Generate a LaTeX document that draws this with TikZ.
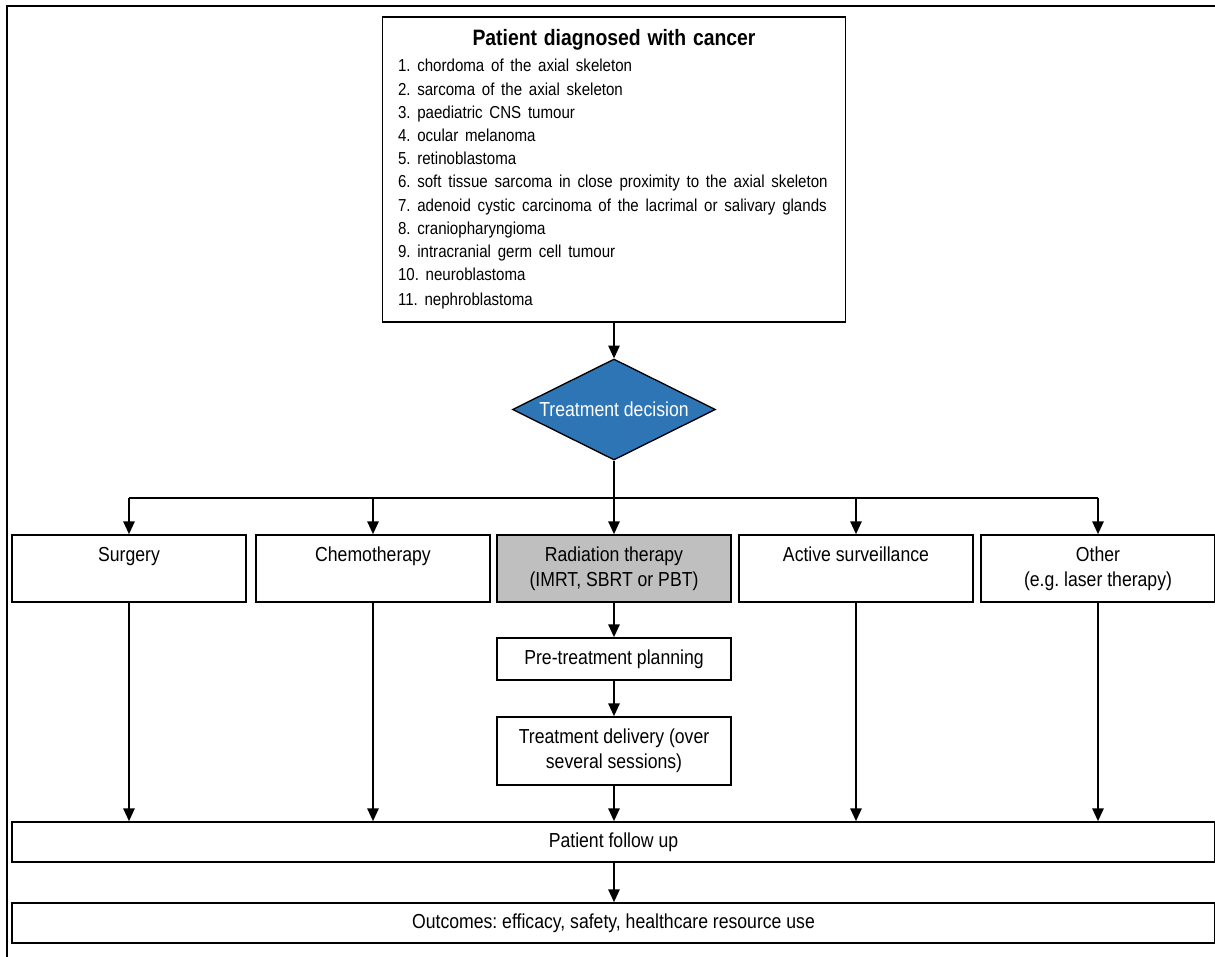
\documentclass[tikz,border=0pt]{standalone}
\usepackage{fontspec}
\setmainfont{Liberation Sans}[FakeStretch=0.87]
\usetikzlibrary{arrows.meta}
\usetikzlibrary{positioning}
\usetikzlibrary{shapes.geometric}
\definecolor{decblue}{HTML}{2E75B6}
\definecolor{radgrey}{HTML}{BFBFBF}
\frenchspacing
\newcommand*{\boxfont}{\fontsize{15.2}{18.75}\selectfont}
\newcommand*{\listfont}{\fontsize{13}{17.4}\selectfont}
\newcommand*{\headfont}{\fontsize{16.7}{20}\selectfont\bfseries}
\tikzset{
    flowbox/.style = {draw,line width=1.3pt,inner sep=0,align=center,font=\boxfont,minimum width=175.5pt},
    rowbox/.style = {flowbox,minimum height=50.25pt},
    decbox/.style = {diamond,aspect=2,draw,line width=1pt,fill=decblue,text=white,inner sep=0,font=\boxfont,minimum width=152.25pt,minimum height=75.75pt},
    flow/.style = {line width=1.1pt,-{Triangle[length=9.5pt,width=8.5pt]}},
    busline/.style = {line width=1.1pt},
    outerframe/.style = {line width=2.2pt}
}

\begin{document}
\begin{tikzpicture}[x=0.75pt,y=-0.75pt]
        \useasboundingbox (0,0) rectangle (1215,957);
        % Frame
        \draw[outerframe] (7,957) -- (7,6) -- (1215,6);
        % Diagnosis
        \node[flowbox,minimum width=347.25pt,minimum height=228.75pt,
            text width=324pt,align=left] (diag) at (614,169.5) {%
            {\centering\headfont Patient diagnosed with cancer\par}
            \vspace{2pt}\listfont
            1. chordoma of the axial skeleton\\
            2. sarcoma of the axial skeleton\\
            3. paediatric CNS tumour\\
            4. ocular melanoma\\
            5. retinoblastoma\\
            6. soft tissue sarcoma in close proximity to the axial skeleton\\
            7. adenoid cystic carcinoma of the lacrimal or salivary glands\\
            8. craniopharyngioma\\
            9. intracranial germ cell tumour\\
            10. neuroblastoma\\
            11. nephroblastoma};
        % Decision
        \node[decbox] (dec) at (614,409.5) {Treatment decision};
        % Options
        \node[rowbox] (surg) at (129,568.5) {Surgery\strut\\\strut};
        \node[rowbox] (chemo) at (373,568.5) {Chemotherapy\strut\\\strut};
        \node[rowbox,fill=radgrey] (rad) at (614,568.5) {Radiation therapy\strut\\(IMRT, SBRT or PBT)\strut};
        \node[rowbox] (surv) at (856,568.5) {Active surveillance\strut\\\strut};
        \node[rowbox] (other) at (1098,568.5) {Other\strut\\(e.g. laser therapy)\strut};
        % Radiation steps
        \node[flowbox,minimum height=31.5pt] (plan) at (614,659) {Pre-treatment planning};
        \node[flowbox,minimum height=51pt] (deliv) at (614,751) {Treatment delivery (over\\several sessions)};
        % Follow up
        \node[flowbox,minimum width=902.25pt,minimum height=30pt] (follow) at (613.5,842) {Patient follow up};
        \node[flowbox,minimum width=902.25pt,minimum height=30pt] (outc) at (613.5,923) {Outcomes: efficacy, safety, healthcare resource use};
        % Arrows
        \coordinate (split) at (614,498);
        \draw[flow] (diag.south) -- (dec.north);
        \draw[flow] (dec.south) -- (rad.north);
        \draw[busline] (surg.north |- split) -- (other.north |- split);
        \foreach \n in {surg,chemo,surv,other}
            \draw[flow] (\n.north |- split) -- (\n.north);
        \draw[flow] (rad) -- (plan);
        \draw[flow] (plan) -- (deliv);
        \foreach \n in {surg,chemo,surv,other,deliv}
            \draw[flow] (\n.south) -- (\n.south |- follow.north);
        \draw[flow] (follow.south -| deliv) -- (outc.north -| deliv);
    \end{tikzpicture}
\end{document}
